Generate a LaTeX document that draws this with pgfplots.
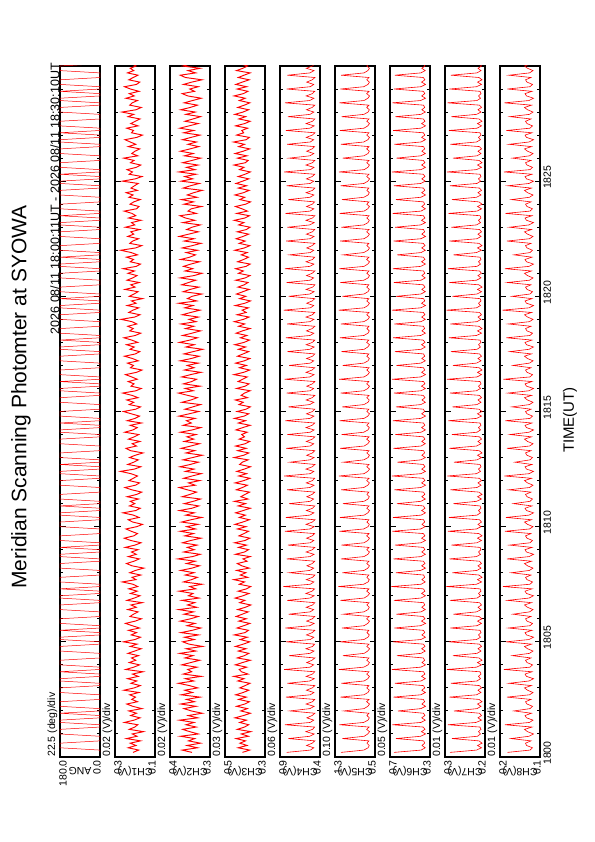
\documentclass[border=0pt]{standalone}
\usepackage{fontspec}
\setmainfont{Liberation Sans}
\usepackage{pgfplots}
\usepackage{pgfplotstable}
\pgfplotsset{compat=1.18}
% t = HHMM.fraction of minute ; a = scan angle (deg) ; c1..c8 = channel outputs (mV)
\pgfplotstableread{
t a c1 c2 c3 c4 c5 c6 c7 c8
1800.2 0 188 352 395 800 1180 660 270 165
1800.3 0 165 391 352 516 724 389 217 120
1800.4 180 207 330 421 474 638 348 207 115
1800.5 180 176 372 368 561 615 380 215 127
1800.6 180 199 318 410 494 661 354 206 129
1800.7 0 158 366 377 461 622 363 212 118
1800.8 0 214 341 433 780 1150 640 266 158
1800.9 0 172 398 360 523 716 394 215 122
1801.0 180 191 327 402 470 645 344 209 113
1801.1 180 146 361 345 570 609 385 213 125
1801.2 180 203 389 426 489 668 350 208 131
1801.3 0 181 335 383 465 618 368 210 116
1801.4 0 169 376 358 820 1210 675 274 170
1801.5 180 222 344 412 518 727 390 218 121
1801.6 180 184 402 371 475 640 347 207 114
1801.7 0 160 329 440 558 614 383 214 127
1801.8 0 197 367 389 495 662 351 207 130
1801.9 180 174 311 348 462 621 365 211 117
1802.0 0 205 355 405 760 1120 620 262 152
1802.1 0 152 384 366 521 719 391 216 120
1802.2 180 189 336 430 471 644 345 208 115
1802.3 180 213 397 381 567 610 381 215 126
1802.4 180 170 342 354 490 667 353 206 129
1802.5 0 193 374 418 464 619 367 212 118
1802.6 0 178 320 372 810 1190 665 271 166
1802.7 0 201 395 436 517 722 393 217 121
1802.8 180 164 350 391 473 641 346 208 114
1802.9 180 224 381 357 562 613 382 214 125
1803.0 180 183 329 411 493 664 352 207 131
1803.1 0 159 362 379 461 621 366 211 117
1803.2 0 196 406 350 790 1170 650 268 162
1803.3 180 173 345 423 522 718 390 216 122
1803.4 180 210 378 386 469 643 347 209 113
1803.5 0 167 315 447 566 611 384 213 127
1803.6 0 190 387 362 491 666 351 208 130
1803.7 180 148 353 401 463 620 364 210 116
1803.8 0 217 369 415 830 1220 680 276 172
1803.9 0 185 332 370 519 725 392 217 120
1804.0 180 162 393 438 476 639 345 207 115
1804.1 180 203 357 395 559 612 380 215 126
1804.2 180 177 321 348 496 663 353 206 129
1804.3 0 194 380 426 462 622 367 212 118
1804.4 0 166 348 384 770 1140 630 264 155
1804.5 0 208 401 357 520 717 389 216 121
1804.6 180 181 337 420 472 646 348 208 114
1804.7 180 155 375 374 568 608 383 214 125
1804.8 180 199 310 437 490 665 350 207 131
1804.9 0 172 364 390 464 619 366 211 117
1805.0 0 226 389 352 805 1200 670 272 168
1805.1 180 180 343 409 517 721 391 217 122
1805.2 180 158 382 366 474 642 346 209 113
1805.3 0 195 326 444 563 613 381 213 127
1805.4 0 174 396 380 494 661 352 208 130
1805.5 180 206 351 359 461 623 365 210 116
1805.6 0 162 317 428 815 1160 655 269 163
1805.7 0 191 372 387 523 720 394 216 120
1805.8 180 218 340 351 470 644 344 207 115
1805.9 180 179 399 417 560 610 385 215 126
1806.0 180 154 358 372 492 667 350 206 129
1806.1 0 200 327 433 463 618 368 212 118
1806.2 0 186 384 396 775 1130 635 263 154
1806.3 0 168 346 361 518 723 390 217 121
1806.4 180 209 405 424 476 640 347 208 114
1806.5 180 175 333 378 565 614 382 214 125
1806.6 180 196 370 345 489 662 353 207 131
1806.7 0 151 341 412 462 621 364 211 117
1806.8 0 212 392 381 795 1190 660 270 165
1806.9 180 183 324 439 521 719 392 216 122
1807.0 180 160 366 392 471 645 345 209 113
1807.1 0 198 348 356 569 609 384 213 127
1807.2 0 171 403 421 495 666 351 208 130
1807.3 180 205 337 371 464 620 366 210 116
1807.4 0 169 361 346 840 1230 685 277 174
1807.5 0 188 312 414 516 726 389 217 120
1807.6 180 231 386 383 473 638 348 207 115
1807.7 180 176 354 447 564 615 381 215 126
1807.8 180 192 330 364 490 663 354 206 129
1807.9 0 157 379 408 461 622 363 212 118
1808.0 0 201 344 375 765 1150 640 265 157
1808.1 0 178 397 430 522 718 393 216 121
1808.2 180 145 352 355 475 643 346 208 114
1808.3 180 192 322 399 557 611 383 214 125
1808.4 180 214 374 426 493 665 350 207 131
1808.5 0 184 339 368 463 619 367 211 117
1808.6 0 163 408 392 800 1180 665 271 166
1808.7 180 207 350 349 520 722 390 217 122
1808.8 180 175 319 437 472 641 347 209 113
1808.9 0 194 385 383 566 612 382 213 127
1809.0 0 168 343 359 491 664 352 208 130
1809.1 180 219 371 419 462 621 365 210 116
1809.2 0 180 332 371 785 1170 650 267 161
1809.3 0 156 390 442 517 720 391 216 120
1809.4 180 197 357 380 474 644 345 207 115
1809.5 180 223 316 351 561 610 384 215 126
1809.6 180 185 381 416 494 667 351 206 129
1809.7 0 170 346 386 464 618 366 212 118
1809.8 0 195 399 359 820 1210 675 274 170
1809.9 0 216 338 425 519 724 393 217 121
1810.0 180 173 373 374 470 639 348 208 114
1810.1 180 150 328 440 567 613 380 214 125
1810.2 180 189 394 393 492 662 353 207 131
1810.3 0 207 356 354 461 623 364 211 117
1810.4 0 164 313 414 810 1200 670 272 168
1810.5 180 186 377 378 523 717 389 216 122
1810.6 180 228 343 436 473 642 346 209 113
1810.7 0 177 402 390 563 609 383 213 127
1810.8 0 159 352 348 489 665 350 208 130
1810.9 180 202 325 421 463 620 367 210 116
1811.0 0 181 383 377 770 1140 630 263 153
1811.1 0 199 347 443 518 721 392 217 120
1811.2 180 166 318 362 476 640 347 207 115
1811.3 180 211 391 405 558 614 382 215 126
1811.4 180 173 360 380 495 661 352 206 129
1811.5 0 153 334 353 462 622 365 212 118
1811.6 0 193 371 432 795 1175 655 269 162
1811.7 0 220 403 395 521 723 390 216 121
1811.8 180 178 339 366 471 643 345 208 114
1811.9 180 162 366 439 565 611 384 214 125
1812.0 180 204 321 387 490 666 351 207 131
1812.1 0 187 385 350 464 619 366 211 117
1812.2 0 170 352 418 830 1220 680 275 171
1812.3 180 196 315 371 516 719 391 217 122
1812.4 180 238 378 429 474 645 346 209 113
1812.5 0 182 344 384 569 608 383 213 127
1812.6 0 157 400 347 493 664 350 208 130
1812.7 180 209 359 412 461 621 367 210 116
1812.8 0 185 326 396 760 1130 625 262 150
1812.9 0 167 388 361 522 726 393 216 120
1813.0 180 202 350 445 472 638 347 207 115
1813.1 180 179 311 388 560 612 381 215 126
1813.2 180 148 376 357 491 663 354 206 129
1813.3 0 198 341 424 463 620 364 212 118
1813.4 0 216 395 373 805 1195 665 271 166
1813.5 0 174 357 436 519 718 390 217 121
1813.6 180 191 322 379 475 644 348 208 114
1813.7 180 160 383 352 564 610 382 214 125
1813.8 180 206 345 415 492 667 351 207 131
1813.9 0 183 372 383 462 618 366 211 117
1814.0 0 165 336 400 790 1165 645 266 160
1814.1 180 221 398 367 517 724 389 216 122
1814.2 180 188 351 434 471 641 346 209 113
1814.3 0 171 317 394 568 613 384 213 127
1814.4 0 199 387 349 494 665 352 208 130
1814.5 180 154 355 420 464 621 365 210 116
1814.6 0 211 374 377 815 1205 670 273 169
1814.7 0 180 340 443 520 720 392 217 120
1814.8 180 162 404 385 473 643 345 207 115
1814.9 180 195 363 358 562 611 383 215 126
1815.0 180 226 325 427 490 662 353 206 129
1815.1 0 177 380 374 463 622 367 212 118
1815.2 0 158 349 348 780 1155 640 265 156
1815.3 0 203 318 416 523 722 391 216 121
1815.4 180 185 392 391 474 640 347 208 114
1815.5 180 213 356 438 566 614 380 214 125
1815.6 180 168 331 365 493 664 350 207 131
1815.7 0 192 369 403 461 619 368 211 117
1815.8 0 229 406 383 800 1185 660 270 164
1815.9 180 176 347 349 518 725 390 217 122
1816.0 180 155 379 430 476 642 346 209 113
1816.1 0 196 320 379 559 610 385 213 127
1816.2 0 184 386 356 491 666 351 208 130
1816.3 180 207 353 421 462 621 364 210 116
1816.4 0 171 334 394 825 1215 678 276 173
1816.5 0 193 393 367 521 719 393 216 120
1816.6 180 218 358 446 472 644 345 207 115
1816.7 180 174 316 388 567 612 383 215 126
1816.8 180 152 382 352 495 663 352 206 129
1816.9 0 198 344 413 464 620 366 212 118
1817.0 0 186 371 372 770 1145 635 264 154
1817.1 0 210 327 436 517 723 391 217 121
1817.2 180 167 399 384 475 639 347 208 114
1817.3 180 190 355 351 561 613 382 214 125
1817.4 180 222 323 425 490 665 353 207 131
1817.5 0 178 384 391 463 622 365 211 117
1817.6 0 161 347 358 790 1170 650 268 160
1817.7 180 200 309 419 522 717 389 216 122
1817.8 180 183 376 376 470 645 348 209 113
1817.9 0 214 343 441 565 609 384 213 127
1818.0 0 169 402 386 492 667 350 208 130
1818.1 180 193 361 353 461 621 367 210 116
1818.2 0 224 330 407 810 1200 668 272 167
1818.3 0 179 389 369 519 721 392 217 120
1818.4 180 157 352 433 474 640 346 207 115
1818.5 180 201 318 395 563 614 381 215 126
1818.6 180 187 378 350 494 662 354 206 129
1818.7 0 209 345 418 462 620 365 212 118
1818.8 0 173 396 382 795 1180 655 269 163
1818.9 0 192 336 444 520 724 390 216 121
1819.0 180 236 364 389 473 641 347 208 114
1819.1 180 181 326 356 568 611 383 214 125
1819.2 180 160 391 427 491 666 351 207 131
1819.3 0 205 357 373 464 619 366 211 117
1819.4 0 188 320 397 835 1225 682 277 175
1819.5 180 165 381 360 516 718 393 217 122
1819.6 180 211 348 438 475 643 345 209 113
1819.7 0 176 405 381 560 612 384 213 127
1819.8 0 194 333 347 493 664 352 208 130
1819.9 180 150 370 412 463 622 365 210 116
1820.0 0 203 352 375 775 1150 640 265 156
1820.1 0 184 313 431 521 720 391 216 120
1820.2 180 168 387 393 471 640 347 207 115
1820.3 180 220 359 355 566 613 382 215 126
1820.4 180 180 324 422 489 665 350 206 129
1820.5 0 197 393 385 461 621 367 212 118
1820.6 0 163 366 362 800 1190 662 271 165
1820.7 0 212 337 435 518 723 390 217 121
1820.8 180 189 399 378 476 638 348 208 114
1820.9 180 172 344 350 562 611 381 214 125
1821.0 180 208 312 419 494 663 353 207 131
1821.1 0 182 380 390 462 620 364 211 117
1821.2 0 227 349 436 820 1210 672 274 170
1821.3 180 175 386 374 522 719 392 216 122
1821.4 180 158 357 349 473 645 346 209 113
1821.5 0 199 322 424 567 609 384 213 127
1821.6 0 186 397 388 490 667 351 208 130
1821.7 180 214 361 359 464 619 366 210 116
1821.8 0 170 338 402 765 1135 628 263 152
1821.9 0 195 375 367 517 725 389 217 120
1822.0 180 237 330 441 475 642 347 207 115
1822.1 180 178 391 384 559 610 383 215 126
1822.2 180 153 351 351 495 664 350 206 129
1822.3 0 201 316 415 461 622 367 212 118
1822.4 0 189 383 379 805 1195 664 271 166
1822.5 0 166 344 433 520 720 391 216 121
1822.6 180 209 403 392 472 644 345 208 114
1822.7 180 185 365 358 564 612 382 214 125
1822.8 180 197 327 426 492 666 353 207 131
1822.9 0 161 373 372 463 619 365 211 117
1823.0 0 218 352 350 790 1170 648 267 161
1823.1 180 181 319 418 523 722 393 217 122
1823.2 180 194 388 387 470 641 346 209 113
1823.3 0 156 341 444 568 613 384 213 127
1823.4 0 206 378 381 491 663 351 208 130
1823.5 180 177 400 354 462 621 366 210 116
1823.6 0 192 335 429 815 1205 674 273 169
1823.7 0 223 368 366 519 718 390 216 120
1823.8 180 174 355 398 474 645 347 207 115
1823.9 180 164 314 437 561 611 381 215 126
1824.0 180 200 384 376 493 665 354 206 129
1824.1 0 185 346 347 464 620 364 212 118
1824.2 0 159 394 411 780 1160 642 266 157
1824.3 0 204 332 382 521 724 392 217 121
1824.4 180 188 371 440 473 639 345 208 114
1824.5 180 215 345 389 566 614 383 214 125
1824.6 180 171 311 355 490 662 352 207 131
1824.7 0 196 387 420 461 622 365 211 117
1824.8 0 182 358 371 800 1185 660 270 164
1824.9 180 167 323 434 518 721 391 216 122
1825.0 180 230 395 394 475 643 348 209 113
1825.1 0 179 349 357 563 609 382 213 127
1825.2 0 152 381 421 494 666 350 208 130
1825.3 180 203 336 380 463 620 367 210 116
1825.4 0 190 404 348 830 1220 680 276 172
1825.5 0 212 340 413 516 717 390 217 120
1825.6 180 175 374 386 472 642 346 207 115
1825.7 180 157 328 446 569 612 384 215 126
1825.8 180 198 389 378 491 664 351 206 129
1825.9 0 184 352 361 462 621 366 212 118
1826.0 0 225 317 425 770 1145 636 264 155
1826.1 0 169 382 369 522 723 393 216 121
1826.2 180 193 347 439 474 640 347 208 114
1826.3 180 180 398 391 560 613 381 214 125
1826.4 180 161 360 352 495 667 353 207 131
1826.5 0 207 325 418 464 619 364 211 117
1826.6 0 177 368 383 795 1180 656 269 162
1826.7 180 199 334 448 517 725 390 217 122
1826.8 180 220 390 373 476 641 346 209 113
1826.9 0 173 356 354 565 610 383 213 127
1827.0 0 150 320 430 492 665 352 208 130
1827.1 180 194 385 388 461 622 366 210 116
1827.2 0 186 345 399 810 1200 668 272 167
1827.3 0 213 401 364 521 719 392 216 120
1827.4 180 168 364 436 470 644 345 207 115
1827.5 180 197 327 382 567 611 384 215 126
1827.6 180 179 380 349 490 663 350 206 129
1827.7 0 160 348 417 464 620 367 212 118
1827.8 0 208 318 376 785 1165 646 267 160
1827.9 0 185 376 441 519 722 390 217 121
1828.0 180 232 339 392 474 639 347 208 114
1828.1 180 176 397 358 562 613 381 214 125
1828.2 180 155 359 423 494 666 353 207 131
1828.3 0 201 330 384 462 621 365 211 117
1828.4 0 191 383 351 820 1210 676 275 171
1828.5 180 170 350 414 523 720 393 216 122
1828.6 180 216 315 379 473 642 346 209 113
1828.7 0 183 369 445 566 609 383 213 127
1828.8 0 203 391 390 491 667 352 208 130
1828.9 180 164 342 362 463 619 366 210 116
1829.0 0 198 361 427 800 1190 662 271 165
1829.1 0 222 327 370 517 724 390 217 120
1829.2 180 174 386 435 475 640 345 207 115
1829.3 180 161 353 396 560 612 384 215 126
1829.4 180 205 312 355 493 665 351 206 129
1829.5 0 187 378 420 461 622 367 212 118
1829.6 0 168 399 386 790 1175 652 268 162
1829.7 0 210 337 349 520 718 391 216 121
1829.8 180 185 368 431 472 643 348 208 114
1829.9 180 199 320 393 564 611 382 214 125
1830.0 180 176 389 365 490 664 350 207 131
1830.1 0 193 352 412 462 620 366 211 117
}\msp

\pgfplotsset{
  panel/.style={
    scale only axis, width=40bp, height=691bp, anchor=south west,
    ymin=1800, ymax=1830, x dir=reverse,
    ytick={1800,1805,...,1830}, minor ytick={1800,1801,...,1830},
    yticklabels={}, xtick=\empty,
    axis line style={line width=1.6pt},
    tick style={black, line width=1pt},
    major tick length=5.5bp, minor tick length=2.8bp,
    tick align=inside,
  },
  sig/.style={red, line width=0.6pt},
  noisy/.style={red, line width=0.95pt},
}
\newcommand{\sz}{\fontsize{10.5bp}{12bp}\selectfont}
\newcommand{\lbl}[5]{% left x, scale text, top value, name, bottom value
  \node[rotate=90, anchor=south west, inner sep=0pt, font=\sz] at (#1bp-2.5bp,85bp) {#2};
  \node[rotate=90, anchor=east, inner sep=0pt, font=\sz] at (#1bp+3bp,82bp) {#3};
  \node[rotate=180, inner sep=0pt, font=\sz] at (#1bp+20bp,71bp) {#4};
  \node[rotate=90, anchor=east, inner sep=0pt, font=\sz] at (#1bp+37bp,82bp) {#5};
}

\begin{document}
\begin{tikzpicture}
\useasboundingbox (0,0) rectangle (595bp,842bp);
\begin{axis}[panel, at={(60bp,85bp)}, xmin=0, xmax=180, minor xtick={22.5,45,...,157.5}]
\addplot[red, line width=0.5pt] table[x=a, y=t] {\msp};
\end{axis}
\begin{axis}[panel, at={(115bp,85bp)}, xmin=100, xmax=260, minor xtick={120,140,...,240}]
\addplot[noisy] table[x=c1, y=t] {\msp};
\end{axis}
\begin{axis}[panel, at={(170bp,85bp)}, xmin=280, xmax=440, minor xtick={300,320,...,420}]
\addplot[noisy] table[x=c2, y=t] {\msp};
\end{axis}
\begin{axis}[panel, at={(225bp,85bp)}, xmin=260, xmax=500, minor xtick={290,320,...,470}]
\addplot[noisy] table[x=c3, y=t] {\msp};
\end{axis}
\begin{axis}[panel, at={(280bp,85bp)}, xmin=400, xmax=880, minor xtick={460,520,...,820}]
\addplot[sig] table[x=c4, y=t] {\msp};
\end{axis}
\begin{axis}[panel, at={(335bp,85bp)}, xmin=500, xmax=1300, minor xtick={600,700,...,1200}]
\addplot[sig] table[x=c5, y=t] {\msp};
\end{axis}
\begin{axis}[panel, at={(390bp,85bp)}, xmin=300, xmax=700, minor xtick={350,400,...,650}]
\addplot[sig] table[x=c6, y=t] {\msp};
\end{axis}
\begin{axis}[panel, at={(445bp,85bp)}, xmin=200, xmax=280, minor xtick={210,220,...,270}]
\addplot[sig] table[x=c7, y=t] {\msp};
\end{axis}
\begin{axis}[panel, at={(500bp,85bp)}, xmin=100, xmax=180, minor xtick={110,120,...,170},
  yticklabels={1800,1805,1810,1815,1820,1825,{}}, yticklabel pos=right,
  yticklabel style={rotate=90, anchor=north, font=\sz, xshift=4bp}]
\addplot[sig] table[x=c8, y=t] {\msp};
\end{axis}
\lbl{60}{22.5 (deg)/div}{180.0}{ANG}{0.0}
\lbl{115}{0.02 (V)/div}{0.3}{CH1(V)}{0.1}
\lbl{170}{0.02 (V)/div}{0.4}{CH2(V)}{0.3}
\lbl{225}{0.03 (V)/div}{0.5}{CH3(V)}{0.3}
\lbl{280}{0.06 (V)/div}{0.9}{CH4(V)}{0.4}
\lbl{335}{0.10 (V)/div}{1.3}{CH5(V)}{0.5}
\lbl{390}{0.05 (V)/div}{0.7}{CH6(V)}{0.3}
\lbl{445}{0.01 (V)/div}{0.3}{CH7(V)}{0.2}
\lbl{500}{0.01 (V)/div}{0.2}{CH8(V)}{0.1}
\node[rotate=90, font=\fontsize{21bp}{25bp}\selectfont] at (21bp,445bp) {Meridian Scanning Photomter at SYOWA};
\node[rotate=90, anchor=east, inner sep=0pt, font=\fontsize{12.5bp}{15bp}\selectfont] at (55bp,779bp) {2026 08/11 18:00:11UT - 2026 08/11 18:30:10UT};
\node[rotate=90, font=\fontsize{15bp}{18bp}\selectfont] at (570bp,422bp) {TIME(UT)};
\end{tikzpicture}
\end{document}
